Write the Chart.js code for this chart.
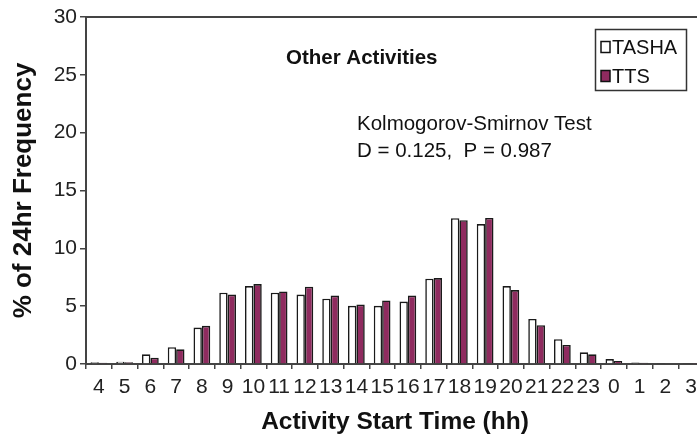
<!DOCTYPE html>
<html>
<head>
<meta charset="utf-8">
<script src="https://cdn.jsdelivr.net/npm/chart.js@4"></script>
<style>
html,body{margin:0;padding:0;background:#fff;overflow:hidden;width:697px;height:437px;}
#wrap{width:704px;height:437px;}
</style>
</head>
<body>
<div id="wrap"><canvas id="c" width="704" height="437"></canvas></div>
<script>
const hours = ['4','5','6','7','8','9','10','11','12','13','14','15','16','17','18','19','20','21','22','23','0','1','2','3'];
const tasha = [0.15,0.2,0.84,1.45,3.15,6.16,6.74,6.16,6.0,5.64,5.03,5.03,5.4,7.37,12.6,12.1,6.74,3.9,2.14,1.01,0.43,0.12,0.08,0.05];
const tts   = [0.1,0.15,0.55,1.27,3.3,6.0,6.91,6.27,6.68,5.92,5.14,5.49,5.92,7.43,12.43,12.63,6.39,3.35,1.65,0.84,0.26,0.1,0.06,0.04];
const yTicks = [0,5,10,15,20,25,30];
const seriesNames = ['TASHA','TTS'];
const panelTitle = 'Other Activities';
const testLines = ['Kolmogorov-Smirnov Test','D = 0.125,  P = 0.987'];
const xTitle = 'Activity Start Time (hh)';
const yTitle = '% of 24hr Frequency';

const FONT = '"Liberation Sans", Arial, Helvetica, sans-serif';
const PURPLE = '#8F2B5F';

const extras = {
  id: 'extras',
  afterDraw(chart) {
    const ctx = chart.ctx;
    const a = chart.chartArea;
    ctx.save();
    // top frame line
    ctx.strokeStyle = '#444';
    ctx.lineWidth = 2;
    ctx.beginPath();
    ctx.moveTo(a.left, a.top);
    ctx.lineTo(a.right, a.top);
    ctx.stroke();
    // texts
    ctx.fillStyle = '#111';
    ctx.textBaseline = 'middle';
    ctx.textAlign = 'left';
    ctx.font = 'bold 20.5px ' + FONT;
    ctx.fillText(panelTitle, 286, 58);
    ctx.font = '20.5px ' + FONT;
    ctx.fillText(testLines[0], 357, 124);
    ctx.fillText(testLines[1], 357, 151);
    // legend
    ctx.strokeStyle = '#333';
    ctx.lineWidth = 1.5;
    ctx.strokeRect(595.5, 29.5, 91, 61);
    const ds = chart.data.datasets;
    const ys = [47, 76];
    ds.forEach((d, i) => {
      ctx.fillStyle = d.backgroundColor;
      ctx.fillRect(601, ys[i] - 5.5, 9, 11);
      ctx.strokeStyle = '#111';
      ctx.lineWidth = 1.5;
      ctx.strokeRect(601, ys[i] - 5.5, 9, 11);
      ctx.fillStyle = '#111';
      ctx.font = '20px ' + FONT;
      ctx.fillText(d.label, 612, ys[i] + 1);
    });
    ctx.restore();
  }
};

new Chart(document.getElementById('c'), {
  type: 'bar',
  data: {
    labels: hours,
    datasets: [
      { label: seriesNames[0], data: tasha, backgroundColor: '#ffffff', borderColor: '#1a1a1a', borderWidth: 1.6 },
      { label: seriesNames[1], data: tts, backgroundColor: PURPLE, borderColor: '#1a1a1a', borderWidth: 1.6 }
    ]
  },
  options: {
    responsive: false,
    animation: false,
    events: [],
    layout: { padding: { top: 17, right: 0, bottom: 0, left: 0 } },
    datasets: { bar: { categoryPercentage: 0.65, barPercentage: 1.0 } },
    plugins: { legend: { display: false }, tooltip: { enabled: false }, title: { display: false } },
    scales: {
      x: {
        offset: true,
        grid: { display: true, drawOnChartArea: false, offset: true, tickLength: 5, color: '#444', lineWidth: 1.5 },
        border: { display: true, color: '#444', width: 2 },
        ticks: { autoSkip: false, maxRotation: 0, minRotation: 0, padding: 6, color: '#222', font: { family: FONT, size: 21 } },
        title: { display: true, text: xTitle, color: '#111', font: { family: FONT, size: 24.5, weight: 'bold' }, padding: { top: 0, bottom: 0 } },
        afterFit(s) { s.height = 73; }
      },
      y: {
        min: 0, max: 30,
        afterBuildTicks(s) { s.ticks = yTicks.map(v => ({ value: v })); },
        grid: { display: true, drawOnChartArea: false, tickLength: 6, color: '#444', lineWidth: 1.5 },
        border: { display: true, color: '#444', width: 2 },
        ticks: { padding: 3, color: '#222', font: { family: FONT, size: 21 } },
        title: { display: true, text: yTitle, color: '#111', font: { family: FONT, size: 26, weight: 'bold' }, padding: { top: 8, bottom: 0 } },
        afterFit(s) { s.width = 86; }
      }
    }
  },
  plugins: [extras]
});
</script>
</body>
</html>
